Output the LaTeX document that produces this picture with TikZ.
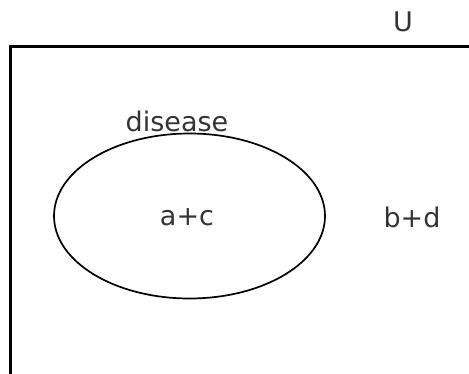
\documentclass[tikz,border=0pt]{standalone}
\usepackage{fontspec}
\setmainfont{DejaVu Sans}
\usetikzlibrary{shapes.geometric}
\definecolor{txt}{HTML}{333333}
\begin{document}
\begin{tikzpicture}[x=1pt,y=-1pt,
  lbl/.style={text=txt,font=\fontsize{27}{32}\selectfont,inner sep=0pt}]
\useasboundingbox (0,0) rectangle (469,373);
\draw[line width=2.2pt] (10.5,380) -- (10.5,46.5) -- (480,46.5);
\node[draw,line width=1.7pt,ellipse,minimum width=271pt,minimum height=165pt,inner sep=0pt] (dis) at (189.5,216) {};
\node[lbl] (ac) at (187,217) {a+c};
\node[lbl] (bd) at (412,217) {b+d};
\node[lbl] (dl) at (177,121) {disease};
\node[lbl] (u) at (403,22) {U};
\end{tikzpicture}
\end{document}
